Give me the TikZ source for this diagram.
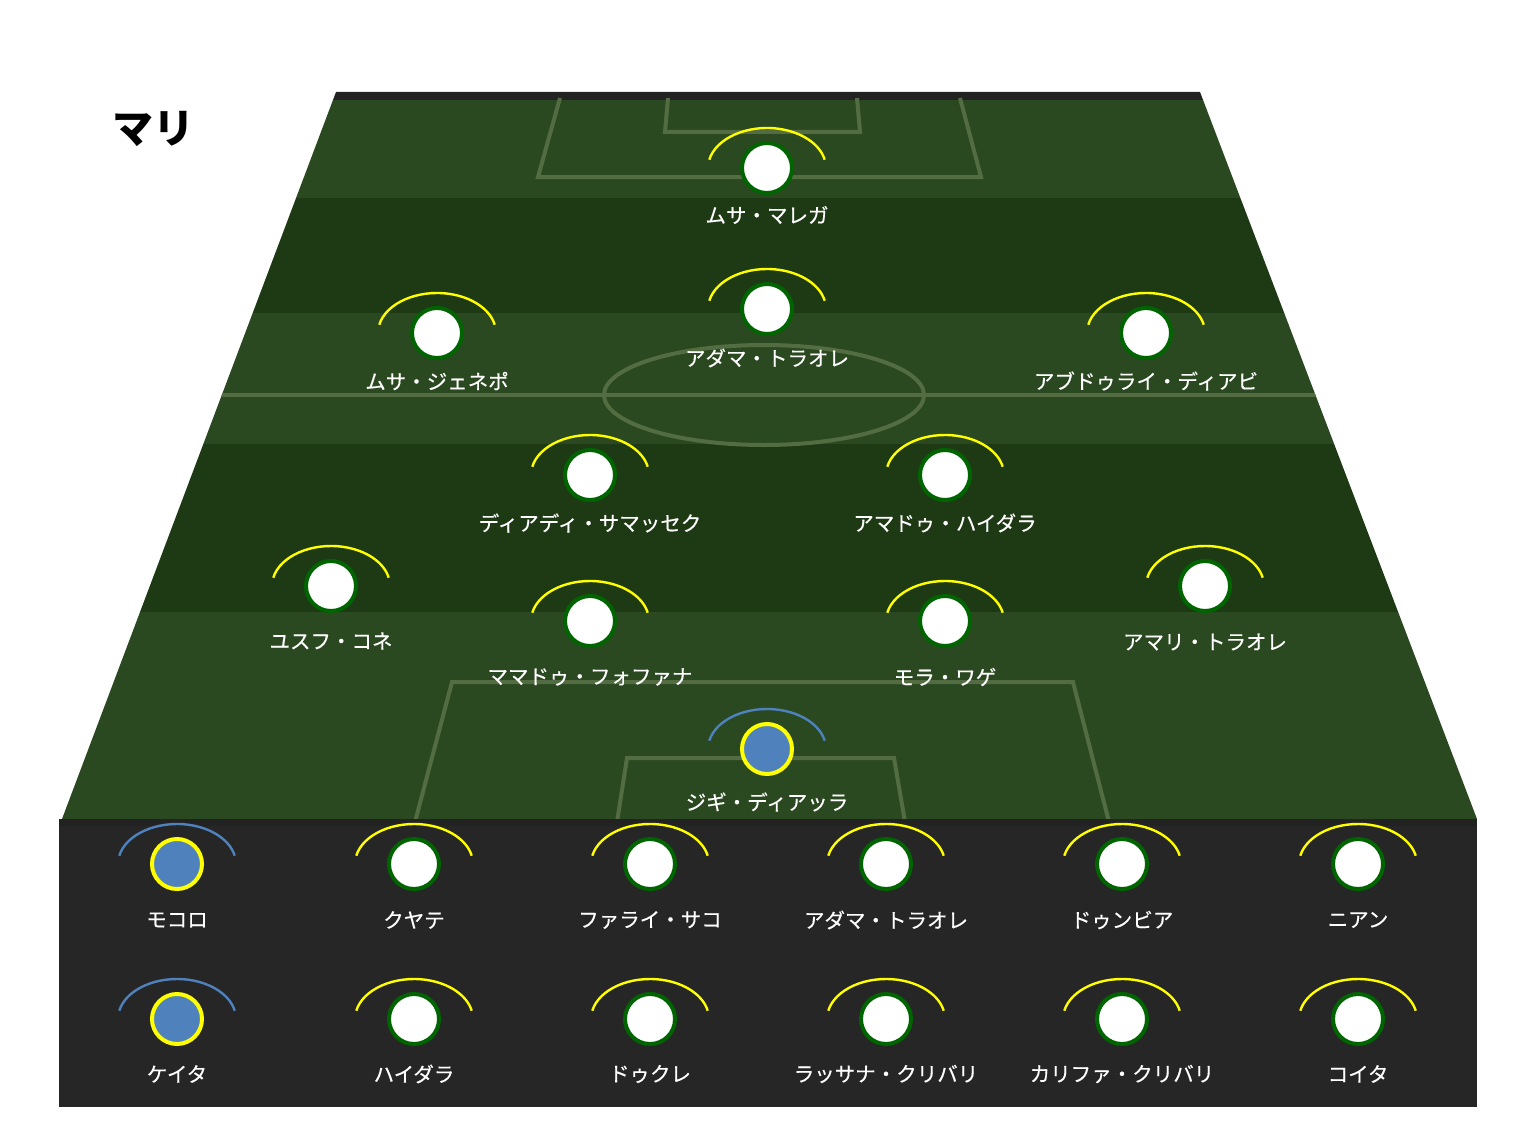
\documentclass[tikz,border=0pt]{standalone}
\usepackage{fontspec}
\newfontfamily\jp{Noto Sans CJK JP}
\newfontfamily\jpl{Noto Sans CJK JP}[FakeBold=0.4]
\definecolor{lightg}{RGB}{42,73,32}
\definecolor{darkg}{RGB}{30,58,21}
\definecolor{stripc}{RGB}{34,34,34}
\definecolor{benchc}{RGB}{38,38,38}
\definecolor{markc}{RGB}{84,108,66}
\definecolor{kgreen}{RGB}{0,100,0}
\definecolor{sblue}{RGB}{79,129,189}
\definecolor{arcy}{RGB}{255,255,0}
\tikzset{
  pw/.style={circle,fill=white,draw=kgreen,line width=4pt,minimum size=50pt,inner sep=0pt},
  ps/.style={circle,fill=sblue,draw=arcy,line width=4pt,minimum size=50pt,inner sep=0pt},
  pwarc/.style={draw=arcy,line width=2.4pt},
  psarc/.style={draw=sblue,line width=2.4pt},
  lbl/.style={text=white,font=\jpl\fontsize{20.5}{24}\selectfont,inner sep=0pt},
  markline/.style={draw=markc,line width=4pt},
}
\newcommand\plyr[6]{%
  \node[#6] (#1) at (#2,#3) {};
  \draw[#6arc] (#1.center) ++(192:59 and 40) arc[start angle=192,end angle=348,x radius=59,y radius=40];
  \node[lbl] (#1-l) at (#2,#3+#5+2) {#4};
}
\begin{document}
\begin{tikzpicture}[x=1pt,y=-1pt]
\useasboundingbox (0,0) rectangle (1520,1129);
\fill[white] (0,0) rectangle (1520,1129);
% pitch
\begin{scope}
  \clip (336,92) -- (1200,92) -- (1477,819) -- (62,819) -- cycle;
  \fill[stripc] (0,90) rectangle (1520,100);
  \fill[lightg] (0,100) rectangle (1520,198);
  \fill[darkg] (0,198) rectangle (1520,313);
  \fill[lightg] (0,313) rectangle (1520,444);
  \fill[darkg] (0,444) rectangle (1520,612);
  \fill[lightg] (0,612) rectangle (1520,820);
  % markings
  \draw[markline] (560,98) -- (538,177) -- (981,177) -- (960,98);
  \draw[markline] (668,98) -- (665,132) -- (860,132) -- (857,98);
  \draw[markline] (150,395) -- (1400,395);
  \draw[markline] (764,395) ellipse [x radius=160, y radius=50];
  \draw[markline] (415,822) -- (452,682) -- (1073,682) -- (1109,822);
  \draw[markline] (617,822) -- (627,758) -- (894,758) -- (905,822);
\end{scope}
% bench
\fill[benchc] (59,819) rectangle (1477,1107);
\fill[stripc] (59,819) rectangle (1477,826);
% title
\node[font=\jp\bfseries\fontsize{41}{45}\selectfont,text=black,inner sep=0pt] (title) at (153,129) {マリ};
% pitch players
\plyr{gk}{767}{168}{ムサ・マレガ}{45}{pw}
\plyr{cb}{767}{309}{アダマ・トラオレ}{47}{pw}
\plyr{lcb}{437}{333}{ムサ・ジェネポ}{46}{pw}
\plyr{rcb}{1146}{333}{アブドゥライ・ディアビ}{46}{pw}
\plyr{lm}{590}{475}{ディアディ・サマッセク}{46}{pw}
\plyr{rm}{945}{475}{アマドゥ・ハイダラ}{46}{pw}
\plyr{lw}{331}{586}{ユスフ・コネ}{53}{pw}
\plyr{rw}{1205}{586}{アマリ・トラオレ}{54}{pw}
\plyr{lf}{590}{621}{ママドゥ・フォファナ}{54}{pw}
\plyr{rf}{945}{621}{モラ・ワゲ}{54}{pw}
\plyr{sub}{767}{749}{ジギ・ディアッラ}{51}{ps}
% bench row 1
\plyr{b1}{177}{864}{モコロ}{54}{ps}
\plyr{b2}{414}{864}{クヤテ}{54}{pw}
\plyr{b3}{650}{864}{ファライ・サコ}{54}{pw}
\plyr{b4}{886}{864}{アダマ・トラオレ}{54}{pw}
\plyr{b5}{1122}{864}{ドゥンビア}{54}{pw}
\plyr{b6}{1358}{864}{ニアン}{54}{pw}
% bench row 2
\plyr{c1}{177}{1019}{ケイタ}{53}{ps}
\plyr{c2}{414}{1019}{ハイダラ}{53}{pw}
\plyr{c3}{650}{1019}{ドゥクレ}{53}{pw}
\plyr{c4}{886}{1019}{ラッサナ・クリバリ}{53}{pw}
\plyr{c5}{1122}{1019}{カリファ・クリバリ}{53}{pw}
\plyr{c6}{1358}{1019}{コイタ}{53}{pw}
\end{tikzpicture}
\end{document}
